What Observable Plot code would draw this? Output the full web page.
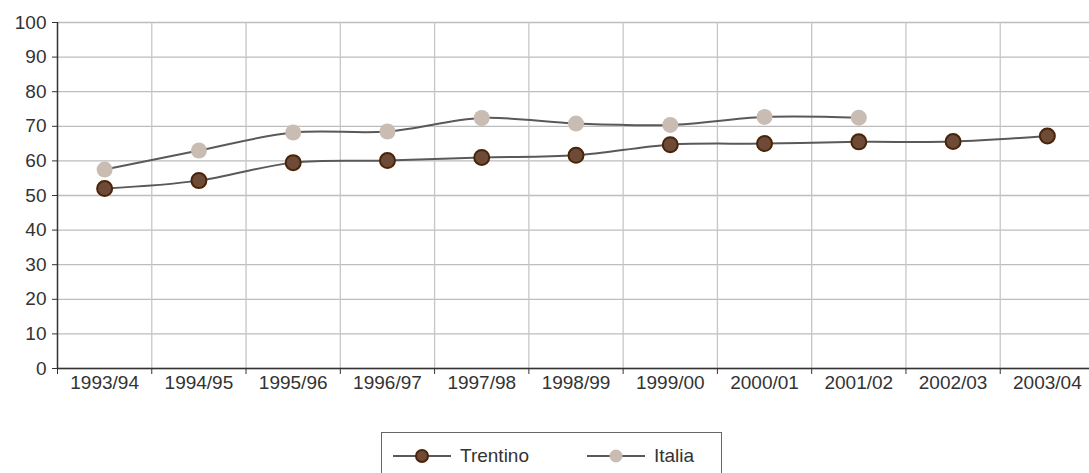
<!DOCTYPE html>
<html>
<head>
<meta charset="utf-8">
<script src="https://cdn.jsdelivr.net/npm/d3@7"></script>
<script src="https://cdn.jsdelivr.net/npm/@observablehq/plot@0.6"></script>
<style>
  html, body { margin: 0; padding: 0; background: #fff; }
  body { width: 1089px; height: 473px; position: relative; overflow: hidden; font-family: "Liberation Sans", Arial, sans-serif; }
  #legend { position: absolute; left: 381px; top: 432px; width: 341px; height: 50px; border: 1.5px solid #666; box-sizing: border-box; }
  .item { position: absolute; top: 0; height: 45px; display: flex; align-items: center; font-size: 19px; color: #333; }
  .item svg { margin-right: 9px; }
</style>
</head>
<body>
<div id="chart"></div>
<div id="legend"></div>
<script>
const years = ["1993/94","1994/95","1995/96","1996/97","1997/98","1998/99","1999/00","2000/01","2001/02","2002/03","2003/04"];
const trentino = [52.0, 54.3, 59.5, 60.1, 61.0, 61.6, 64.7, 65.0, 65.5, 65.6, 67.2];
const italia = [57.5, 63.0, 68.2, 68.5, 72.4, 70.8, 70.4, 72.7, 72.5];
const yTicks = [0,10,20,30,40,50,60,70,80,90,100];
const seriesNames = ["Trentino", "Italia"];

const tData = trentino.map((v, i) => ({i, v}));
const iData = italia.map((v, i) => ({i, v}));
const idx = years.map((_, i) => i);
const bounds = d3.range(years.length + 1).map(k => k - 0.5);

const lineColor = "#595959";
const tFill = "#6e4b36", tStroke = "#4a2408";
const iFill = "#c9bcb3";

const chart = Plot.plot({
  width: 1089,
  height: 400,
  marginTop: 22,
  marginBottom: 32,
  marginLeft: 57,
  marginRight: -5,
  style: { fontFamily: "Liberation Sans, Arial, sans-serif", fontSize: "19px", color: "#333", background: "#fff" },
  x: { domain: [-0.5, years.length - 0.5] },
  y: { domain: [0, 100] },
  marks: [
    Plot.ruleY(yTicks, { stroke: "#bdbdbd", strokeWidth: 1.3 }),
    Plot.ruleX(bounds.slice(1), { stroke: "#c6c6c6", strokeWidth: 1.3 }),
    Plot.axisY({ ticks: yTicks, tickSize: 5, tickPadding: 6, stroke: "#333", label: null, fontSize: 19 }),
    Plot.axisX({ ticks: bounds, tickSize: 6, tickFormat: () => "", label: null, stroke: "#333" }),
    Plot.axisX({ ticks: idx, tickSize: 0, tickPadding: 7, tickFormat: i => years[i], label: null, fontSize: 19 }),
    Plot.ruleX([-0.5], { stroke: "#333", strokeWidth: 1.5 }),
    Plot.ruleY([0], { stroke: "#333", strokeWidth: 1.5 }),
    Plot.line(tData, { x: "i", y: "v", stroke: lineColor, strokeWidth: 2, curve: "catmull-rom" }),
    Plot.line(iData, { x: "i", y: "v", stroke: lineColor, strokeWidth: 2, curve: "catmull-rom" }),
    Plot.dot(iData, { x: "i", y: "v", r: 8, fill: iFill, stroke: "none" }),
    Plot.dot(tData, { x: "i", y: "v", r: 7.5, fill: tFill, stroke: tStroke, strokeWidth: 2 })
  ]
});
document.getElementById("chart").appendChild(chart);

const legend = document.getElementById("legend");
const items = [
  { name: seriesNames[0], left: 11, fill: tFill, stroke: tStroke, sw: 2, r: 6 },
  { name: seriesNames[1], left: 205, fill: iFill, stroke: "none", sw: 0, r: 6.5 }
];
items.forEach(it => {
  const div = document.createElement("div");
  div.className = "item";
  div.style.left = it.left + "px";
  div.innerHTML = `<svg width="58" height="16"><line x1="0" y1="8" x2="58" y2="8" stroke="${lineColor}" stroke-width="2"/><circle cx="29" cy="8" r="${it.r}" fill="${it.fill}" stroke="${it.stroke}" stroke-width="${it.sw}"/></svg><span>${it.name}</span>`;
  legend.appendChild(div);
});
</script>
</body>
</html>
